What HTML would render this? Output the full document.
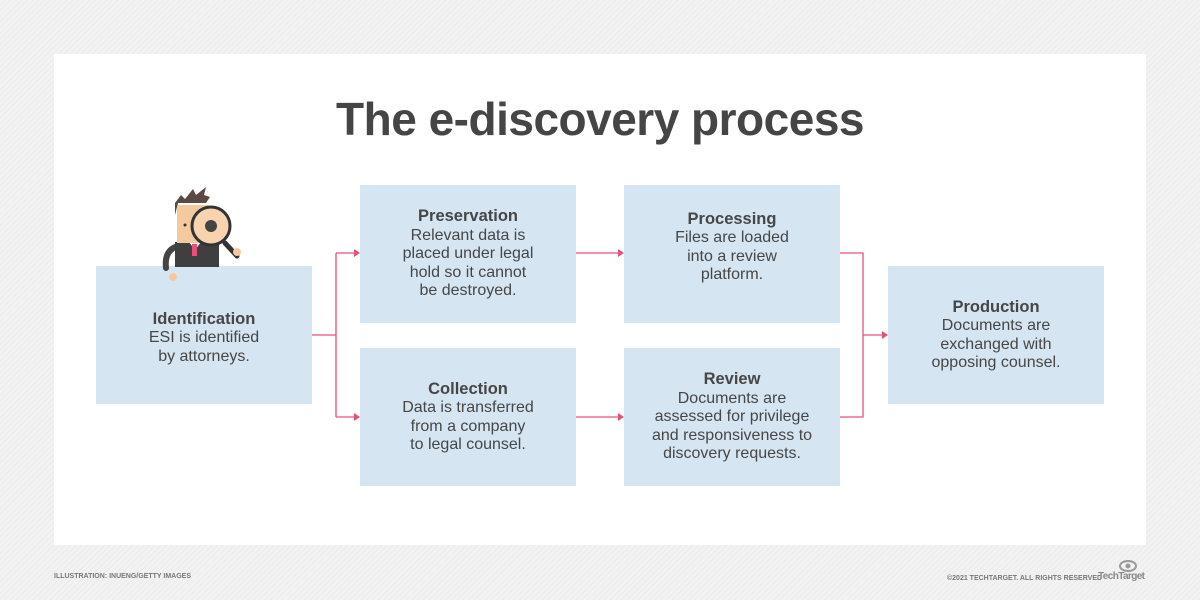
<!DOCTYPE html>
<html><head><style>
body{margin:0;width:1200px;height:600px;overflow:hidden;font-family:"Liberation Sans",sans-serif;color:#464646;
background:repeating-linear-gradient(135deg,#f2f2f2 0 3px,#ebebeb 3px 4px);position:relative}
.panel{position:absolute;left:54px;top:54px;width:1092px;height:491px;background:#fff}
h1{position:absolute;left:0;width:1200px;top:92px;margin:0;text-align:center;font-size:46px;font-weight:bold;color:#454545;letter-spacing:-0.5px}
.box{position:absolute;width:216px;height:138px;background:#d6e5f2;display:flex;flex-direction:column;justify-content:center;align-items:center;text-align:center;font-size:16px;line-height:18.5px}
.box b{font-size:16.5px;margin-bottom:1px}
.foot{position:absolute;font-size:7px;color:#777;font-weight:bold}
</style></head><body>
<div class="panel"></div>
<h1>The e-discovery process</h1>
<div class="box" style="left:96px;top:266px;padding-top:6px;box-sizing:border-box"><b>Identification</b>ESI is identified<br>by attorneys.</div>
<div class="box" style="left:360px;top:185px"><b>Preservation</b>Relevant data is<br>placed under legal<br>hold so it cannot<br>be destroyed.</div>
<div class="box" style="left:360px;top:348px"><b>Collection</b>Data is transferred<br>from a company<br>to legal counsel.</div>
<div class="box" style="left:624px;top:185px;padding-bottom:14px;box-sizing:border-box"><b>Processing</b>Files are loaded<br>into a review<br>platform.</div>
<div class="box" style="left:624px;top:348px"><b>Review</b>Documents are<br>assessed for privilege<br>and responsiveness to<br>discovery requests.</div>
<div class="box" style="left:888px;top:266px"><b>Production</b>Documents are<br>exchanged with<br>opposing counsel.</div>
<svg width="1200" height="600" style="position:absolute;left:0;top:0">
<g stroke="#e8507a" stroke-width="1.3" fill="none">
<path d="M312 335H336M336 253V417M336 253H355M336 417H355M576 253H619M576 417H619M840 253H863V417H840M863 335H883"/>
</g>
<g fill="#e8507a">
<path d="M360 253l-6-4v8z"/><path d="M360 417l-6-4v8z"/><path d="M624 253l-6-4v8z"/><path d="M624 417l-6-4v8z"/><path d="M888 335l-6-4v8z"/>
</g>
<path d="M166 268 q-2 -18 12 -22" stroke="#444" stroke-width="6" fill="none" stroke-linecap="round"/>
<circle cx="173" cy="277" r="4" fill="#f5c9a0"/>
<rect x="175" y="242" width="44" height="25" fill="#3f3f3f"/>
<path d="M189 242 l6 8 l6 -8z" fill="#fff"/>
<rect x="192" y="244" width="5" height="12" fill="#e8507a"/>
<rect x="177" y="205" width="32" height="38" fill="#f5c9a0"/>
<path d="M175 215 l0 -12 l6 -8 l4 4 l8 -10 l3 6 l10 -8 l-2 8 l6 2 l-4 6 l-28 0 l-3 12z" fill="#5a4a42"/>
<path d="M225 243 l12 13" stroke="#333" stroke-width="5" stroke-linecap="round"/>
<circle cx="237" cy="252" r="4" fill="#f5c9a0"/>
<circle cx="211" cy="226" r="19" fill="#f7d3b0" stroke="#333" stroke-width="3"/>
<circle cx="211" cy="226" r="6" fill="#444"/>
<circle cx="185" cy="225" r="1.5" fill="#333"/>
</svg>
<div class="foot" style="left:54px;top:573px">ILLUSTRATION: INUENG/GETTY IMAGES</div>
<div class="foot" style="left:947px;top:575px">©2021 TECHTARGET. ALL RIGHTS RESERVED</div>
<div style="position:absolute;left:1098px;top:571px;font-size:10px;font-weight:bold;color:#888;letter-spacing:-0.6px">TechTarget</div>
<svg width="30" height="16" style="position:absolute;left:1114px;top:557px"><ellipse cx="14" cy="9" rx="8" ry="5" fill="none" stroke="#999" stroke-width="2"/><circle cx="14" cy="9" r="2.5" fill="#999"/></svg>
</body></html>
